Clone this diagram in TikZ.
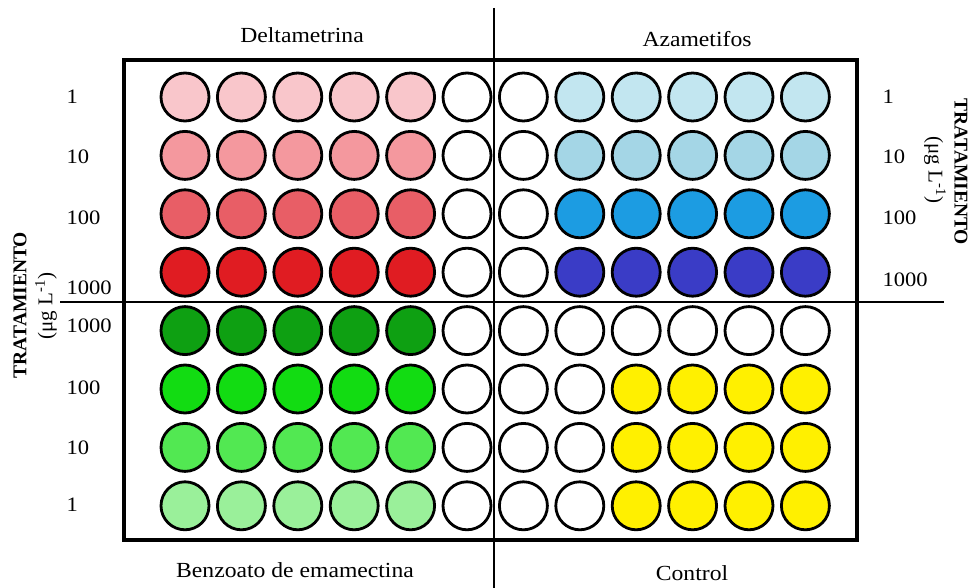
\documentclass[tikz,border=0pt]{standalone}
\usepackage{fontspec}
\setmainfont{Liberation Serif}[FakeStretch=1.1]
\newfontfamily\rotfont{Liberation Serif}
\usepackage{tikz}
\usetikzlibrary{positioning}

\definecolor{delta1}{HTML}{F9C6CB}
\definecolor{delta10}{HTML}{F4989E}
\definecolor{delta100}{HTML}{E85E66}
\definecolor{delta1000}{HTML}{E01C22}
\definecolor{azam1}{HTML}{C2E6F0}
\definecolor{azam10}{HTML}{A4D6E6}
\definecolor{azam100}{HTML}{1C9CE2}
\definecolor{azam1000}{HTML}{3A3CC6}
\definecolor{benz1000}{HTML}{0EA012}
\definecolor{benz100}{HTML}{12DC12}
\definecolor{benz10}{HTML}{52E852}
\definecolor{benz1}{HTML}{9AF09A}
\definecolor{ctrl}{HTML}{FFF000}

\begin{document}
\begin{tikzpicture}[
        x=1pt, y=-1pt,
        pozo/.style={circle, draw=black, line width=2.8pt, minimum size=48pt, inner sep=0pt},
        titulo/.style={font=\fontsize{21.5}{25}\selectfont},
        dosis/.style={anchor=west, font=\fontsize{20.5}{24}\selectfont},
        eje/.style={font=\rotfont\bfseries\fontsize{19.5}{22}\selectfont},
        unidad/.style={font=\rotfont\fontsize{21}{24}\selectfont},
        divisor/.style={line width=1.2pt}
    ]
        \useasboundingbox (0,0) rectangle (971,588);

        % --- Placa ---
        \draw[line width=3.5pt] (124,60) rectangle (857,540);

        \foreach \fills [count=\r] in {
            {delta1,delta1,delta1,delta1,delta1,white,white,azam1,azam1,azam1,azam1,azam1},
            {delta10,delta10,delta10,delta10,delta10,white,white,azam10,azam10,azam10,azam10,azam10},
            {delta100,delta100,delta100,delta100,delta100,white,white,azam100,azam100,azam100,azam100,azam100},
            {delta1000,delta1000,delta1000,delta1000,delta1000,white,white,azam1000,azam1000,azam1000,azam1000,azam1000},
            {benz1000,benz1000,benz1000,benz1000,benz1000,white,white,white,white,white,white,white},
            {benz100,benz100,benz100,benz100,benz100,white,white,white,ctrl,ctrl,ctrl,ctrl},
            {benz10,benz10,benz10,benz10,benz10,white,white,white,ctrl,ctrl,ctrl,ctrl},
            {benz1,benz1,benz1,benz1,benz1,white,white,white,ctrl,ctrl,ctrl,ctrl}} {
            \foreach \f [count=\c] in \fills {
                \node[pozo, fill=\f] (p\r-\c) at ({185+(\c-1)*56.4}, {97+(\r-1)*58.4}) {};
            }
        }

        % --- Divisiones ---
        \coordinate (vtop) at (494,8);
        \coordinate (vbot) at (494,588);
        \coordinate (hizq) at (60,302);
        \coordinate (hder) at (944,302);
        \draw[divisor] (vtop) -- (vbot);
        \draw[divisor] (hizq) -- (hder);

        % --- Tratamientos ---
        \node[titulo] (delta) at (302,35) {Deltametrina};
        \node[titulo] (azam) at (697,39) {Azametifos};
        \node[titulo] (benz) at (295,570) {Benzoato de emamectina};
        \node[titulo] (ctrl) at (692,573) {Control};

        % --- Dosis ---
        \node[dosis] (i1) at (63,97) {1};
        \node[dosis] (i10) at (63,157) {10};
        \node[dosis] (i100) at (63,218) {100};
        \node[dosis] (i1000) at (63,288) {1000};
        \node[dosis] (j1000) at (63,326) {1000};
        \node[dosis] (j100) at (63,388) {100};
        \node[dosis] (j10) at (63,448) {10};
        \node[dosis] (j1) at (63,505) {1};

        \node[dosis] (d1) at (879,97) {1};
        \node[dosis] (d10) at (879,157) {10};
        \node[dosis] (d100) at (879,218) {100};
        \node[dosis] (d1000) at (879,280) {1000};

        % --- Ejes ---
        \node[eje, rotate=90] (ejeizq) at (20,305) {TRATAMIENTO};
        \node[unidad, rotate=90] (uizq) at (46,306) {(μg L\textsuperscript{-1})};
        \node[eje, rotate=-90] (ejeder) at (961,172) {TRATAMIENTO};
        \node[unidad, rotate=-90] (uder) at (935,170) {(μg L\textsuperscript{-1})};
    \end{tikzpicture}
\end{document}
